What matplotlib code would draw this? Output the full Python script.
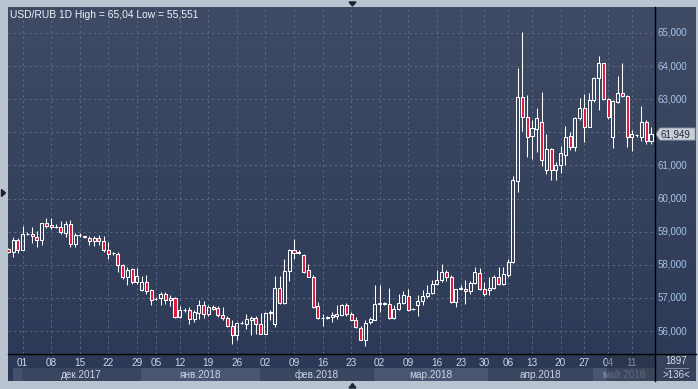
import numpy as np
import matplotlib
matplotlib.use('Agg')
import matplotlib.pyplot as plt
from matplotlib.patches import Rectangle, Polygon
from matplotlib.lines import Line2D

plt.rcParams['font.family'] = ['Liberation Sans', 'DejaVu Sans']

# ====== данные: дневные свечи USD/RUB (136 баров) ======
opens = [
    58.49, 58.39, 58.75, 58.46, 58.92, 58.93, 58.85, 58.75, 59.25, 59.19,
    59.14, 59.13, 58.95, 59.23, 58.62, 58.89, 58.85, 58.80, 58.71, 58.80,
    58.71, 58.46, 58.35, 58.34, 58.01, 57.64, 57.86, 57.48, 57.25, 57.47,
    57.23, 56.96, 57.00, 57.13, 56.95, 57.01, 56.42, 56.64, 56.63, 56.37,
    56.55, 56.80, 56.53, 56.73, 56.71, 56.49, 56.40, 56.16, 55.87, 56.24,
    56.20, 56.34, 56.40, 56.22, 55.92, 56.56, 56.22, 57.31, 56.85, 57.81,
    58.46, 58.37, 58.29, 57.84, 57.64, 56.75, 56.40, 56.41, 56.42, 56.47,
    56.49, 56.80, 56.53, 56.34, 56.10, 55.74, 56.27, 56.34, 56.83, 56.83,
    56.83, 56.39, 56.68, 56.85, 57.06, 56.66, 56.78, 56.91, 57.05, 57.16,
    57.43, 57.54, 57.77, 57.64, 56.88, 57.26, 57.26, 57.20, 57.45, 57.74,
    57.28, 57.23, 57.31, 57.62, 57.42, 57.69, 58.09, 60.54, 63.08, 62.45,
    61.90, 62.09, 62.30, 60.87, 61.50, 60.87, 61.00, 61.33, 61.89, 61.55,
    62.42, 62.75, 62.17, 62.98, 63.63, 64.08, 63.00, 61.87, 62.93, 63.20,
    63.10, 61.85, 61.91, 61.87, 62.30, 61.75]
highs = [
    58.50, 58.83, 58.80, 59.17, 58.99, 59.13, 59.03, 59.26, 59.40, 59.40,
    59.22, 59.33, 59.33, 59.35, 58.97, 58.95, 58.88, 58.87, 58.87, 58.89,
    58.87, 58.70, 58.39, 58.39, 58.04, 57.94, 57.89, 57.89, 57.66, 57.69,
    57.28, 57.03, 57.18, 57.18, 57.08, 57.03, 56.75, 56.71, 56.73, 56.63,
    56.95, 56.91, 56.78, 56.78, 56.75, 56.73, 56.47, 56.32, 56.27, 56.29,
    56.52, 56.47, 56.47, 56.55, 56.57, 56.63, 57.66, 57.66, 58.19, 58.47,
    58.78, 58.44, 58.34, 58.04, 57.69, 56.88, 56.53, 56.47, 56.58, 56.78,
    56.81, 56.85, 56.58, 56.42, 56.14, 56.32, 56.42, 57.38, 57.38, 56.88,
    57.31, 56.78, 57.11, 57.21, 57.26, 56.70, 57.08, 57.23, 57.38, 57.54,
    57.84, 58.04, 57.84, 57.69, 57.28, 57.38, 57.54, 57.52, 57.92, 57.89,
    57.48, 57.64, 57.69, 57.92, 57.92, 58.19, 60.68, 63.93, 65.04, 63.13,
    62.37, 62.75, 63.23, 61.96, 61.52, 61.10, 61.60, 62.19, 62.02, 62.47,
    63.03, 63.16, 63.18, 63.68, 64.31, 64.10, 63.03, 62.98, 63.70, 64.10,
    63.13, 62.07, 61.94, 62.79, 62.37, 62.15]
lows = [
    58.37, 58.24, 58.36, 58.44, 58.89, 58.65, 58.53, 58.60, 59.10, 59.07,
    59.10, 58.92, 58.83, 58.55, 58.55, 58.85, 58.80, 58.60, 58.57, 58.60,
    58.39, 58.19, 58.29, 57.79, 57.56, 57.38, 57.43, 57.43, 57.21, 57.13,
    56.78, 56.93, 56.78, 56.81, 56.75, 56.41, 56.40, 56.58, 56.22, 56.27,
    56.37, 56.40, 56.47, 56.63, 56.44, 56.32, 56.12, 55.60, 55.72, 56.20,
    56.07, 55.87, 55.92, 55.91, 55.90, 56.32, 56.12, 56.81, 56.83, 57.51,
    58.19, 58.32, 57.74, 57.62, 56.71, 56.37, 56.14, 56.37, 56.27, 56.37,
    56.48, 56.47, 56.32, 56.10, 55.72, 55.551, 56.22, 56.32, 56.58, 56.78,
    56.37, 56.37, 56.63, 56.83, 56.61, 56.63, 56.47, 56.78, 57.01, 57.11,
    57.38, 57.48, 57.51, 56.85, 56.73, 57.25, 56.83, 57.13, 57.43, 57.25,
    57.05, 57.08, 57.28, 57.38, 57.38, 57.62, 58.05, 60.20, 62.05, 61.26,
    61.21, 61.41, 60.97, 60.75, 60.55, 60.55, 60.77, 61.01, 61.47, 61.45,
    62.37, 61.72, 62.15, 62.93, 62.69, 62.98, 62.39, 61.52, 62.88, 63.06,
    61.57, 61.45, 61.85, 61.75, 61.65, 61.65]
closes = [
    58.39, 58.75, 58.46, 58.93, 58.93, 58.87, 58.75, 59.25, 59.17, 59.14,
    59.15, 58.98, 59.23, 58.63, 58.90, 58.90, 58.86, 58.71, 58.80, 58.71,
    58.46, 58.34, 58.36, 58.01, 57.64, 57.84, 57.48, 57.66, 57.48, 57.21,
    56.95, 56.97, 57.13, 56.95, 57.01, 56.42, 56.65, 56.65, 56.37, 56.58,
    56.80, 56.53, 56.73, 56.67, 56.49, 56.39, 56.15, 55.87, 56.24, 56.25,
    56.35, 56.40, 56.22, 55.92, 56.56, 56.57, 57.31, 56.85, 57.81, 58.46,
    58.37, 58.38, 57.79, 57.64, 56.73, 56.39, 56.41, 56.42, 56.49, 56.53,
    56.80, 56.53, 56.34, 56.12, 55.74, 56.25, 56.37, 56.83, 56.84, 56.84,
    56.39, 56.68, 56.86, 57.08, 56.65, 56.67, 56.91, 57.05, 57.16, 57.43,
    57.54, 57.77, 57.64, 56.88, 57.26, 57.31, 57.20, 57.45, 57.77, 57.28,
    57.13, 57.31, 57.62, 57.43, 57.72, 58.09, 60.56, 63.08, 62.45, 61.87,
    62.12, 62.42, 61.16, 61.50, 60.87, 61.00, 61.37, 61.86, 61.57, 62.42,
    62.75, 62.17, 62.98, 63.63, 64.08, 63.00, 62.45, 62.95, 63.20, 63.10,
    61.85, 61.94, 61.92, 62.30, 61.75, 61.949]

# подписи дат (индекс бара -> число)
date_idx = [3, 9, 15, 21, 27, 31, 36, 42, 48, 54, 60, 66, 72, 78, 84, 90,
            95, 100, 105, 110, 116, 121, 126, 131]
date_lbl = ['01', '08', '15', '22', '29', '05', '12', '19', '26', '02', '09',
            '16', '23', '02', '09', '16', '23', '30', '06', '13', '20', '27',
            '04', '11']
months = ['дек.2017', 'янв.2018', 'фев.2018', 'мар.2018', 'апр.2018', 'май.2018']
price_ticks = [56, 57, 58, 59, 60, 61, 62, 63, 64, 65]
last_price = 61.949

# ====== геометрия (пиксели) ======
W, H = 698, 389
X0, DX = 8.4, 4.76          # центр бара 0 и шаг в px
Y65, PPU = 33.0, 33.12      # y(65.000) и px на 1 рубль

def box(x0, y0, x1, y1):
    return [x0 / W, 1 - y1 / H, (x1 - x0) / W, (y1 - y0) / H]

def px2idx(px):
    return (px - X0) / DX

def py2price(py):
    return 65 - (py - Y65) / PPU

fig = plt.figure(figsize=(W / 100, H / 100), dpi=100)
fig.patch.set_facecolor('#bac4d1')

# фон-градиент
bg = fig.add_axes(box(8, 7, 696, 381))
grad = np.linspace(0, 1, 256)[:, None]
top, bot = np.array([63, 75, 100]) / 255, np.array([44, 57, 86]) / 255
img = top[None, None, :] * (1 - grad[..., None]) + bot[None, None, :] * grad[..., None]
bg.imshow(img, aspect='auto', extent=[0, 1, 0, 1])
bg.axis('off')

# ====== основной график ======
ax = fig.add_axes(box(8, 7, 655, 354))
ax.set_facecolor('none')
ax.set_xlim(px2idx(8), px2idx(655))
ax.set_ylim(py2price(354), py2price(7))
ax.set_xticks(date_idx)
ax.set_yticks(price_ticks)
ax.tick_params(length=0, labelbottom=False, labelleft=False)
ax.grid(True, color='#5a6782', lw=0.7, linestyle=(0, (2.5, 3)))
for s in ax.spines.values():
    s.set_visible(False)

bw = 0.64
for i in range(len(opens)):
    o, h, l, c = opens[i], highs[i], lows[i], closes[i]
    lo, hi = min(o, c), max(o, c)
    h, l = max(h, hi), min(l, lo)
    ax.plot([i, i], [hi, h], color='white', lw=0.75, solid_capstyle='butt', zorder=3)
    ax.plot([i, i], [l, lo], color='white', lw=0.75, solid_capstyle='butt', zorder=3)
    fc = '#e2183d' if c < o else 'none'
    ax.add_patch(Rectangle((i - bw / 2, lo), bw, hi - lo, facecolor=fc,
                           edgecolor='white', lw=0.75, zorder=4))

fig.text(10 / W, 1 - 15 / H, 'USD/RUB 1D High = 65,04 Low = 55,551',
         color='#eef2f8', fontsize=7.4, va='center')

# ====== шкала цен справа ======
axr = fig.add_axes(box(655, 7, 696, 354))
axr.set_facecolor('none')
axr.set_xlim(655, 696)
axr.set_ylim(py2price(354), py2price(7))
axr.axis('off')
for p in price_ticks:
    if abs(p - last_price) < 0.4:   # метку закрывает ярлык последней цены
        continue
    axr.text(657.5, p, f'{p},000', color='#a6c4ea', fontsize=7, va='center')
hh = 6 / PPU
axr.add_patch(Polygon([(656, last_price), (660, last_price + hh), (695, last_price + hh),
                       (695, last_price - hh), (660, last_price - hh)],
                      closed=True, facecolor='#c9ced6', edgecolor='#9aa3b0', lw=0.6))
axr.text(660.5, last_price, f'{last_price:.3f}'.replace('.', ','),
         color='#1c2a3e', fontsize=7, va='center')

# ====== шкала дат ======
axd = fig.add_axes(box(8, 354, 655, 381))
axd.set_facecolor('none')
axd.set_xlim(px2idx(8), px2idx(655))
axd.set_ylim(27, 0)
axd.axis('off')
edges = [px2idx(p) for p in [22, 141, 260, 374, 488, 593, 655]]
axd.add_patch(Rectangle((px2idx(13), 14), px2idx(22) - px2idx(13), 13,
                        facecolor='#45516b', lw=0))
for k in range(len(months)):
    col = '#3a4660' if k % 2 == 0 else '#4a5671'
    axd.add_patch(Rectangle((edges[k], 14), edges[k + 1] - edges[k], 13,
                            facecolor=col, lw=0))
    tc = '#8f99ab' if k == len(months) - 1 else '#cbd6e8'
    axd.text((edges[k] + edges[k + 1]) / 2, 20.5, months[k], color=tc,
             fontsize=7.2, ha='center', va='center')
for i, t in zip(date_idx, date_lbl):
    axd.text(i, 8.5, t, color='#cbd6e8', fontsize=7.2, ha='center', va='center')
# затемнение последнего участка
axd.add_patch(Rectangle((px2idx(607), 0), px2idx(655) - px2idx(607), 27,
                        facecolor='#2a3142', alpha=0.45, lw=0, zorder=5))

# угловая ячейка
axc = fig.add_axes(box(655, 354, 696, 381))
axc.set_facecolor('#36425b')
axc.set_xlim(655, 696)
axc.set_ylim(381, 354)
axc.axis('off')
axc.add_patch(Rectangle((655, 354), 41, 27, facecolor='#36425b', lw=0))
axc.text(676, 361.5, '1897', color='#d3dcea', fontsize=7, ha='center', va='center')
axc.plot([665, 688], [368, 368], color='#8c97aa', lw=0.6)
axc.text(676, 374.5, '>136<', color='#d3dcea', fontsize=7, ha='center', va='center')

# разделительные линии
fig.add_artist(Line2D([655 / W, 655 / W], [1 - 7 / H, 1 - 381 / H], color='black', lw=1))
fig.add_artist(Line2D([8 / W, 696 / W], [1 - 354 / H, 1 - 354 / H], color='black', lw=1))

# маленькие треугольники по краям
tri = '#1c2433'
fig.add_artist(Polygon([(349 / W, 1 - 2 / H), (356 / W, 1 - 2 / H), (352.5 / W, 1 - 6 / H)],
                       closed=True, color=tri, transform=fig.transFigure))
fig.add_artist(Polygon([(349 / W, 1 - 388 / H), (356 / W, 1 - 388 / H), (352.5 / W, 1 - 383.5 / H)],
                       closed=True, color=tri, transform=fig.transFigure))
fig.add_artist(Polygon([(1.5 / W, 1 - 189.5 / H), (1.5 / W, 1 - 196.5 / H), (5.5 / W, 1 - 193 / H)],
                       closed=True, color=tri, transform=fig.transFigure))

plt.savefig('out.png', dpi=100, facecolor=fig.get_facecolor())
plt.close()
